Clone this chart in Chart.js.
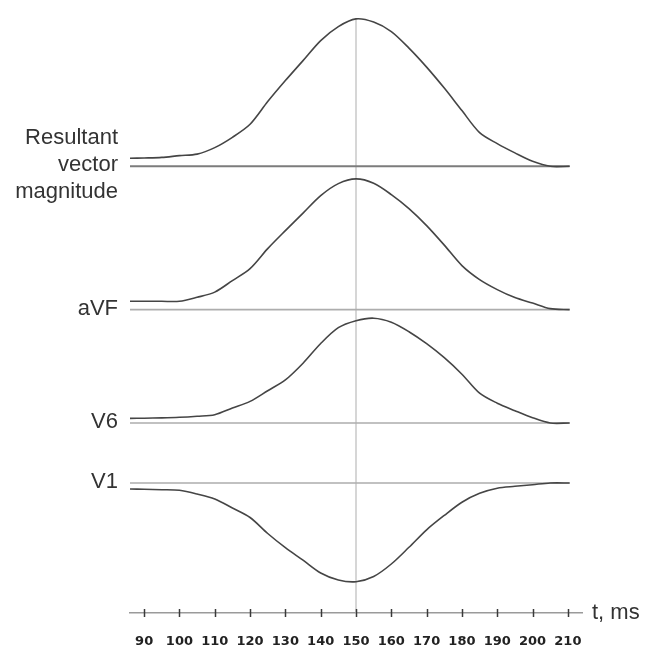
<!DOCTYPE html>
<html>
<head>
<meta charset="utf-8">
<script src="https://cdn.jsdelivr.net/npm/chart.js@4.4.1/dist/chart.umd.min.js"></script>
<style>
  html, body { margin: 0; padding: 0; background: #fff; }
  canvas { display: block; }
</style>
</head>
<body>
<canvas id="ecg" width="651" height="648"></canvas>
<script>
// time samples (ms) shared by every lead
const timeMs = [86, 90, 95, 100, 105, 110, 115, 120, 125, 130, 135, 140, 145,
                150, 155, 160, 165, 170, 175, 180, 185, 190, 195, 200, 205, 210.5];

// amplitude above each lead's own baseline (arbitrary units)
const resultant = [8, 8.3, 8.9, 10.7, 12.2, 18.7, 29, 42, 64.7, 85.7, 105.7, 125.7, 139.7,
                   147.4, 144.2, 134.7, 118.2, 99.2, 78.2, 55.7, 33.7, 22.7, 13.4, 5, 0, 0];
const aVF = [8.3, 8.3, 8.3, 8.3, 12.3, 17.5, 29, 41, 61, 79, 96.5, 114, 126,
             130.7, 126.3, 115, 101, 84, 64.5, 44, 30, 20, 12, 6.5, 1, 0];
const v6 = [4.6, 4.8, 5.1, 5.7, 6.8, 8.3, 15, 21.6, 32.3, 43.1, 59.8, 79.5, 95.3,
            102.3, 104.8, 100.8, 91.3, 79.3, 65.3, 48.8, 29.8, 19.8, 12.3, 5.3, 0, 0];
const v1 = [-6, -6.3, -6.7, -7.3, -11, -16, -25, -34.5, -50.5, -64.7, -77.2, -90, -97,
            -98.7, -93.5, -81, -64.3, -46.8, -32.4, -19.2, -10.3, -5.2, -3.3, -1.7, 0, 0];

// lead names and where each baseline sits on the stacked amplitude scale
const leadNames = [['Resultant', 'vector', 'magnitude'], ['aVF'], ['V6'], ['V1']];
const leadBaselines = [446.7, 303.4, 190, 130];
const leadSeries = [resultant, aVF, v6, v1];

const xTicks = [90, 100, 110, 120, 130, 140, 150, 160, 170, 180, 190, 200, 210];
const markerMs = 150;
const axisTitle = 't, ms';

const curveColor = '#454545';
const baselineColors = ['#7c7c7c', '#adadad', '#adadad', '#adadad'];

const datasets = [];

// vertical marker at 150 ms, from the axis up to the resultant peak
const markerIdx = timeMs.indexOf(markerMs);
datasets.push({
    data: [{ x: markerMs, y: 0 }, { x: markerMs, y: leadBaselines[0] + resultant[markerIdx] }],
    borderColor: '#c9c9c9',
    borderWidth: 1.5,
    order: 10
});

leadSeries.forEach((amp, i) => {
    const base = leadBaselines[i];
    datasets.push({
        data: [{ x: timeMs[0], y: base }, { x: timeMs[timeMs.length - 1], y: base }],
        borderColor: baselineColors[i],
        borderWidth: i === 0 ? 2 : 1.6,
        order: 5
    });
    datasets.push({
        data: timeMs.map((t, j) => ({ x: t, y: base + amp[j] })),
        borderColor: curveColor,
        borderWidth: 1.6,
        tension: 0.3,
        order: 1
    });
});

const decorations = {
    id: 'decorations',
    afterDraw(chart) {
        const { ctx, chartArea, scales: { x, y } } = chart;
        const axisY = chartArea.bottom;
        ctx.save();

        // tick marks crossing the axis line
        ctx.strokeStyle = '#3a3a3a';
        ctx.lineWidth = 1.5;
        xTicks.forEach(v => {
            const px = Math.round(x.getPixelForValue(v)) + 0.5;
            ctx.beginPath();
            ctx.moveTo(px, axisY - 4);
            ctx.lineTo(px, axisY + 4);
            ctx.stroke();
        });

        // axis title to the right of the axis
        ctx.fillStyle = '#333';
        ctx.font = '22px "Liberation Sans", Arial, sans-serif';
        ctx.textAlign = 'left';
        ctx.textBaseline = 'middle';
        ctx.fillText(axisTitle, chartArea.right + 10, axisY);

        // lead names, right aligned next to their baselines
        ctx.textAlign = 'right';
        leadNames.forEach((lines, i) => {
            const cy = y.getPixelForValue(leadBaselines[i]);
            const lh = 27;
            const top = cy - (lines.length - 1) * lh / 2;
            lines.forEach((txt, k) => ctx.fillText(txt, chartArea.left - 12, top + k * lh - 1));
        });
        ctx.restore();
    }
};

new Chart(document.getElementById('ecg'), {
    type: 'line',
    data: { datasets },
    plugins: [decorations],
    options: {
        responsive: false,
        animation: false,
        devicePixelRatio: 1,
        layout: { padding: { left: 130, right: 69, top: 13, bottom: 0 } },
        elements: { point: { radius: 0 } },
        plugins: { legend: { display: false }, tooltip: { enabled: false } },
        scales: {
            x: {
                type: 'linear',
                min: 86,
                max: 214,
                afterBuildTicks: axis => { axis.ticks = xTicks.map(v => ({ value: v })); },
                afterFit: axis => { axis.height = 35; },
                ticks: {
                    color: '#222',
                    font: { family: '"DejaVu Sans", Verdana, sans-serif', size: 13, weight: 'bold' },
                    padding: 21,
                    maxRotation: 0,
                    autoSkip: false
                },
                grid: { display: true, drawOnChartArea: false, drawTicks: false },
                border: { display: true, color: '#9a9a9a', width: 1.5 }
            },
            y: { display: false, min: 0, max: 600 }
        }
    }
});
</script>
</body>
</html>
